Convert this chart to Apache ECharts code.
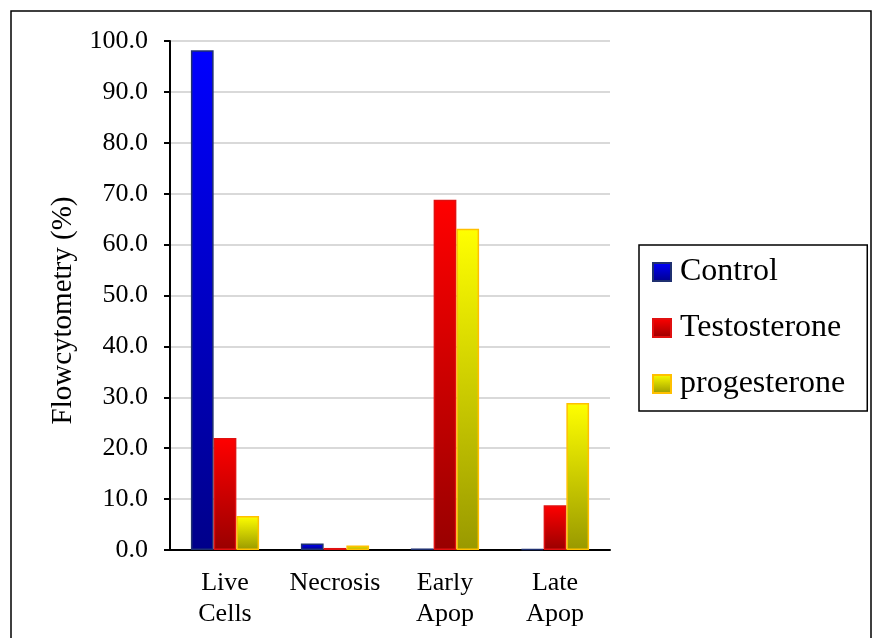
<!DOCTYPE html>
<html><head><meta charset="utf-8">
<script src="https://cdn.jsdelivr.net/npm/echarts@6/dist/echarts.min.js"></script>
<style>html,body{margin:0;padding:0;background:#fff}#c{width:873px;height:638px}</style>
</head><body><div id="c"></div>
<script>
const categories = ['Live\nCells', 'Necrosis', 'Early\nApop', 'Late\nApop'];
const control = [98.2, 1.3, 0.3, 0.2];
const testosterone = [22.0, 0.4, 68.8, 8.8];
const progesterone = [6.7, 0.9, 63.1, 28.9];
const seriesNames = ['Control', 'Testosterone', 'progesterone'];
const yTicks = [0, 10, 20, 30, 40, 50, 60, 70, 80, 90, 100];

const FONT = 'Liberation Serif';
function grad(top, bottom) {
  return new echarts.graphic.LinearGradient(0, 0, 0, 1, [
    { offset: 0, color: top }, { offset: 1, color: bottom }
  ]);
}
const styles = [
  { color: grad('#0000ff', '#00008a'), borderColor: '#1f3070' },
  { color: grad('#ff0000', '#990000'), borderColor: '#e01010' },
  { color: grad('#ffff00', '#999900'), borderColor: '#ffc000' }
];
const chart = echarts.init(document.getElementById('c'), null, { renderer: 'canvas' });
chart.setOption({
  animation: false,
  backgroundColor: '#fff',
  textStyle: { fontFamily: FONT },
  graphic: [{
    type: 'rect', shape: { x: 11, y: 11, width: 860, height: 640 },
    style: { fill: 'none', stroke: '#000', lineWidth: 1.5 }, silent: true, z: -1
  }],
  legend: {
    orient: 'vertical', left: 639, top: 245,
    data: seriesNames,
    icon: 'rect', itemWidth: 18, itemHeight: 18, itemGap: 24,
    padding: [11, 22, 11, 13],
    borderColor: '#000', borderWidth: 1.5,
    textStyle: { fontFamily: FONT, fontSize: 32, color: '#000', padding: [0, 0, 0, 4] }
  },
  grid: { left: 170, right: 263, top: 41, bottom: 88, containLabel: false },
  xAxis: {
    type: 'category', data: categories,
    axisLine: { lineStyle: { color: '#000', width: 2 } },
    axisTick: { alignWithLabel: true, length: 7, lineStyle: { color: '#000', width: 2 } },
    axisLabel: { interval: 0, fontFamily: FONT, fontSize: 26, color: '#000', margin: 18, lineHeight: 31 }
  },
  yAxis: {
    type: 'value', min: 0, max: 100, interval: 10,
    name: 'Flowcytometry (%)', nameLocation: 'middle', nameGap: 92,
    nameTextStyle: { fontFamily: FONT, fontSize: 29, color: '#000', padding: [0, 30, 0, 0] },
    axisLine: { show: true, lineStyle: { color: '#000', width: 2 } },
    axisTick: { show: true, length: 6, lineStyle: { color: '#000', width: 2 } },
    axisLabel: { fontFamily: FONT, fontSize: 26, color: '#000', margin: 22,
      formatter: v => yTicks.includes(v) ? v.toFixed(1) : '' },
    splitLine: { lineStyle: { color: '#d9d9d9', width: 2 } }
  },
  series: [control, testosterone, progesterone].map((d, i) => ({
    name: seriesNames[i], type: 'bar', data: d,
    barGap: '0%', barCategoryGap: '38%',
    itemStyle: { color: styles[i].color, borderColor: styles[i].borderColor, borderWidth: 1.5 }
  }))
});
</script></body></html>
